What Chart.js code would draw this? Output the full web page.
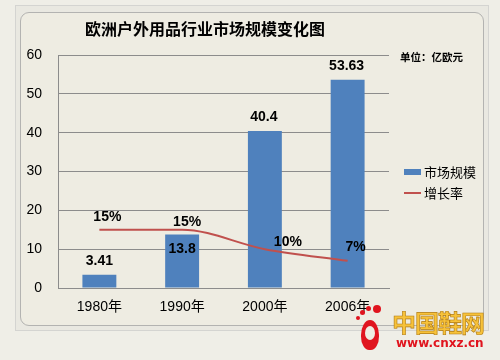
<!DOCTYPE html>
<html><head><meta charset="utf-8">
<script src="https://cdn.jsdelivr.net/npm/chart.js@4/dist/chart.umd.min.js"></script>
<style>
html,body{margin:0;padding:0;background:#EFEEE7;}
#wrap{position:relative;width:500px;height:360px;overflow:hidden;}
#outer{position:absolute;left:15px;top:5px;width:474px;height:326px;border:1px solid #D4D4D1;background:#E9E8E1;box-sizing:border-box;}
#inner{position:absolute;left:20px;top:12px;width:464px;height:314px;border:1px solid #B3B3B1;border-radius:9px;background:#EEECE2;box-sizing:border-box;}
#c{position:absolute;left:0;top:0;}
#wm1{position:absolute;left:392px;top:308px;font:bold 24px "Noto Sans CJK SC",sans-serif;color:#F7C23A;-webkit-text-stroke:0.6px #B07A10;letter-spacing:-1px;line-height:28px;}
#wm2{position:absolute;left:396px;top:336px;font:bold 12px "DejaVu Sans",sans-serif;color:#E0141E;line-height:14px;}
.dot{position:absolute;background:#E0141E;border-radius:50%;}
</style></head>
<body><div id="wrap">
<div id="outer"></div><div id="inner"></div>
<canvas id="c" width="500" height="360"></canvas>
<div class="dot" style="left:361px;top:320px;width:18px;height:30px;border-radius:50% 50% 45% 45%;"></div>
<div class="dot" style="left:365px;top:326px;width:10px;height:14px;background:#EEECE2;"></div>
<div class="dot" style="left:373px;top:305px;width:8px;height:8px;"></div>
<div class="dot" style="left:366px;top:306px;width:5px;height:5px;"></div>
<div class="dot" style="left:360px;top:310px;width:5px;height:5px;"></div>
<div class="dot" style="left:356px;top:316px;width:4px;height:4px;"></div>
<div id="wm1">中国鞋网</div>
<div id="wm2">www.cnxz.cn</div>
</div>
<script>
const categories = ['1980年', '1990年', '2000年', '2006年'];
const marketSize = [3.41, 13.8, 40.4, 53.63];
const growthRate = [15, 15, 10, 7];
const yTicks = [0, 10, 20, 30, 40, 50, 60];
const seriesNames = ['市场规模', '增长率'];

const barColor = '#4F81BD';
const lineColor = '#C0504D';
const numFont = '"Liberation Sans", "Noto Sans CJK SC", sans-serif';
const cjkFont = '"Noto Sans CJK SC", sans-serif';
const barLabelOffset = [[0,-14],[0,15],[-1,-14],[-1,-14]];
const lineLabelOffset = [[8,-13],[5,-8],[23,-7],[8,-14]];

const decor = {
  id: 'decor',
  afterDraw(chart) {
    const ctx = chart.ctx;
    ctx.save();
    ctx.fillStyle = '#000';
    ctx.textBaseline = 'middle';
    // title
    ctx.textAlign = 'center';
    ctx.font = 'bold 16px ' + cjkFont;
    ctx.fillText('欧洲户外用品行业市场规模变化图', 205, 29);
    // unit
    ctx.textAlign = 'left';
    ctx.font = 'bold 10.5px ' + cjkFont;
    ctx.fillText('单位：亿欧元', 400, 57);
    // data labels
    ctx.textAlign = 'center';
    ctx.font = 'bold 14px ' + numFont;
    const bm = chart.getDatasetMeta(1);
    bm.data.forEach((el, i) => {
      const o = barLabelOffset[i];
      ctx.fillText(String(marketSize[i]), el.x + o[0], el.y + o[1]);
    });
    const lm = chart.getDatasetMeta(0);
    lm.data.forEach((el, i) => {
      const o = lineLabelOffset[i];
      ctx.fillText(growthRate[i] + '%', el.x + o[0], el.y + o[1]);
    });
    // legend
    ctx.textAlign = 'left';
    ctx.font = '13px ' + cjkFont;
    ctx.fillStyle = barColor;
    ctx.fillRect(404, 169, 17, 6);
    ctx.fillStyle = '#000';
    ctx.fillText(seriesNames[0], 424, 172);
    ctx.strokeStyle = lineColor;
    ctx.lineWidth = 2;
    ctx.beginPath(); ctx.moveTo(404, 193); ctx.lineTo(421, 193); ctx.stroke();
    ctx.fillText(seriesNames[1], 424, 193);
    ctx.restore();
  }
};

new Chart(document.getElementById('c'), {
  data: {
    labels: categories,
    datasets: [
      { type: 'line', label: seriesNames[1], data: growthRate, borderColor: lineColor, borderWidth: 2,
        pointRadius: 0, cubicInterpolationMode: 'monotone', fill: false, order: 1 },
      { type: 'bar', label: seriesNames[0], data: marketSize, backgroundColor: barColor,
        barPercentage: 0.41, categoryPercentage: 1, order: 2 }
    ]
  },
  options: {
    responsive: false, animation: false,
    layout: { padding: { left: 0, top: 55, right: 111, bottom: 0 } },
    plugins: { legend: { display: false }, tooltip: { enabled: false }, title: { display: false } },
    scales: {
      x: {
        grid: { display: false, drawTicks: false },
        border: { color: '#8C8C8C', width: 1 },
        ticks: { color: '#000', font: { size: 14, family: numFont }, padding: 11 },
        afterFit(s) { s.height = 72; }
      },
      y: {
        min: 0, max: 60,
        afterBuildTicks(s) { s.ticks = yTicks.map(v => ({ value: v })); },
        grid: { color: '#8C8C8C', drawTicks: false },
        border: { color: '#8C8C8C', width: 1 },
        ticks: { color: '#000', font: { size: 14, family: numFont }, padding: 16 },
        afterFit(s) { s.width = 58; }
      }
    }
  },
  plugins: [decor]
});
</script>
</body></html>
